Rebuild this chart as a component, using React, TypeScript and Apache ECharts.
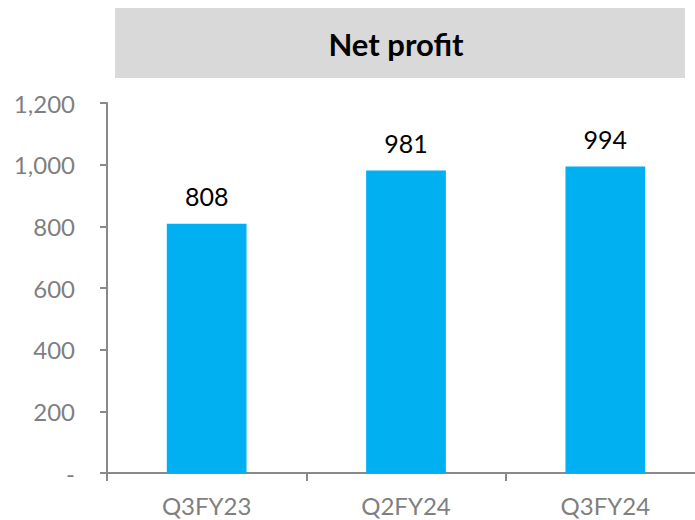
import React, { useEffect, useRef } from "react";
import * as echarts from "echarts";

const categories = ["Q3FY23", "Q2FY24", "Q3FY24"];
const netProfit = [808, 981, 994];
const titleText = "Net profit";

export default function App() {
  const ref = useRef<HTMLDivElement>(null);
  useEffect(() => {
    if (!ref.current) return;
    const chart = echarts.init(ref.current, undefined, { renderer: "svg" });
    const font = "Lato, 'DejaVu Sans', sans-serif";
    chart.setOption({
      animation: false,
      backgroundColor: "#ffffff",
      graphic: [
        {
          type: "rect",
          shape: { x: 115, y: 8, width: 570, height: 70 },
          style: { fill: "#d9d9d9" },
          silent: true,
        },
        {
          type: "text",
          x: 396,
          y: 44,
          style: {
            text: titleText,
            font: `bold 31px ${font}`,
            fill: "#000000",
            align: "center",
            verticalAlign: "middle",
          },
        },
      ],
      grid: { left: 107, top: 103, width: 598, height: 370, containLabel: false },
      xAxis: {
        type: "category",
        data: categories,
        axisLine: { lineStyle: { color: "#898989", width: 2 } },
        axisTick: { show: true, length: 8, lineStyle: { color: "#898989", width: 2 } },
        axisLabel: { color: "#7f7f7f", fontSize: 24, fontFamily: font, margin: 20 },
      },
      yAxis: {
        type: "value",
        min: 0,
        max: 1200,
        interval: 200,
        axisLine: { show: true, lineStyle: { color: "#898989", width: 2 } },
        axisTick: { show: true, length: 7, lineStyle: { color: "#898989", width: 2 } },
        splitLine: { show: false },
        axisLabel: {
          color: "#7f7f7f",
          fontSize: 24,
          fontFamily: font,
          margin: 32,
          formatter: (v: number) => (v === 0 ? "-" : v.toLocaleString("en-US")),
        },
      },
      series: [
        {
          type: "bar",
          data: netProfit,
          barWidth: "40%",
          itemStyle: { color: "#00b0f0" },
          label: {
            show: true,
            position: "top",
            distance: 15,
            color: "#000000",
            fontSize: 25,
            fontFamily: font,
          },
        },
      ],
    });
    return () => chart.dispose();
  }, []);
  return (
    <div
      style={{
        position: "absolute",
        left: 0,
        top: 0,
        width: 695,
        height: 520,
        overflow: "hidden",
      }}
    >
      <div ref={ref} style={{ width: 720, height: 520 }} />
    </div>
  );
}
